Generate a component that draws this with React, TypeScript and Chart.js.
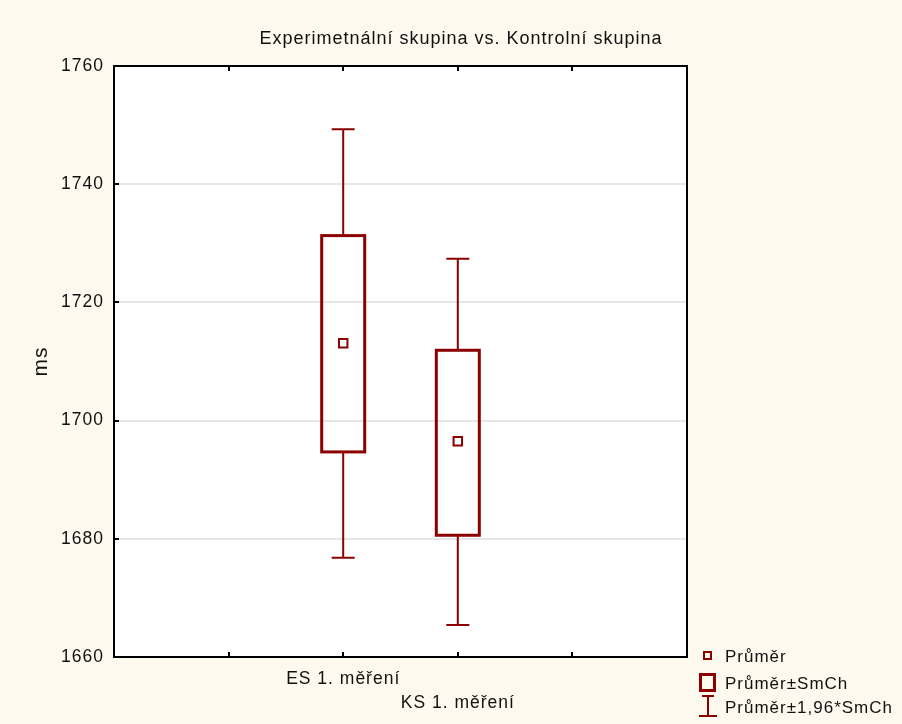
import React, { useEffect, useRef } from "react";
import { Chart, registerables } from "chart.js";

Chart.register(...registerables);

const chartTitle = "Experimetnální skupina vs. Kontrolní skupina";
const yAxisTitle = "ms";
const categories = ["ES 1. měření", "KS 1. měření"];
const categoryPositions = [2, 3];
const xRange = [0, 5];
const means = [1713.1, 1696.5];
const seLow = [1694.7, 1680.6];
const seHigh = [1731.3, 1711.9];
const ciLow = [1676.8, 1665.4];
const ciHigh = [1749.3, 1727.4];
const yRange = [1660, 1760];
const yStep = 20;
const legendLabels = ["Průměr", "Průměr±SmCh", "Průměr±1,96*SmCh"];

const RED = "#8B0000";
const FONT = "'Liberation Sans', Arial, sans-serif";
const BG = "#fdf9ee";

const boxPlugin = {
  id: "boxPlugin",
  beforeDraw(chart: any) {
    const { ctx, chartArea } = chart;
    try {
      (ctx as any).letterSpacing = "1px";
    } catch (e) {}
    ctx.save();
    ctx.fillStyle = "#ffffff";
    ctx.fillRect(chartArea.left, chartArea.top, chartArea.right - chartArea.left, chartArea.bottom - chartArea.top);
    ctx.restore();
  },
  beforeDatasetsDraw(chart: any) {
    const { ctx } = chart;
    const xs = chart.scales.x;
    const ys = chart.scales.y;
    ctx.save();
    ctx.strokeStyle = RED;
    for (let i = 0; i < categories.length; i++) {
      const px = xs.getPixelForValue(categoryPositions[i]);
      const yCiH = ys.getPixelForValue(ciHigh[i]);
      const yCiL = ys.getPixelForValue(ciLow[i]);
      const ySeH = ys.getPixelForValue(seHigh[i]);
      const ySeL = ys.getPixelForValue(seLow[i]);
      // whiskers
      ctx.lineWidth = 2;
      ctx.beginPath();
      ctx.moveTo(px, yCiH);
      ctx.lineTo(px, ySeH);
      ctx.moveTo(px, ySeL);
      ctx.lineTo(px, yCiL);
      ctx.moveTo(px - 11.5, yCiH);
      ctx.lineTo(px + 11.5, yCiH);
      ctx.moveTo(px - 11.5, yCiL);
      ctx.lineTo(px + 11.5, yCiL);
      ctx.stroke();
      // box
      ctx.lineWidth = 3;
      ctx.strokeRect(px - 21.5, ySeH, 43, ySeL - ySeH);
    }
    ctx.restore();
  },
  afterDraw(chart: any) {
    const { ctx, chartArea } = chart;
    const xs = chart.scales.x;
    const ys = chart.scales.y;
    const { left, right, top, bottom } = chartArea;
    ctx.save();
    // frame
    ctx.strokeStyle = "#000000";
    ctx.lineWidth = 2;
    ctx.strokeRect(left, top, right - left, bottom - top);
    ctx.beginPath();
    for (let v = xRange[0] + 1; v < xRange[1]; v++) {
      const px = Math.round(xs.getPixelForValue(v));
      ctx.moveTo(px, bottom);
      ctx.lineTo(px, bottom - 5);
      ctx.moveTo(px, top);
      ctx.lineTo(px, top + 5);
    }
    for (let v = yRange[0] + yStep; v < yRange[1]; v += yStep) {
      const py = Math.round(ys.getPixelForValue(v));
      ctx.moveTo(left, py);
      ctx.lineTo(left + 5, py);
    }
    ctx.stroke();

    // legend
    ctx.strokeStyle = RED;
    ctx.lineWidth = 2;
    ctx.strokeRect(704, 652, 7, 7);
    ctx.lineWidth = 3;
    ctx.strokeRect(700.5, 674.5, 14, 16);
    ctx.lineWidth = 2;
    ctx.beginPath();
    ctx.moveTo(708, 696);
    ctx.lineTo(708, 716);
    ctx.moveTo(702, 696);
    ctx.lineTo(714, 696);
    ctx.moveTo(699, 716);
    ctx.lineTo(717, 716);
    ctx.stroke();

    ctx.fillStyle = "#111111";
    ctx.font = `17px ${FONT}`;
    ctx.textAlign = "left";
    ctx.textBaseline = "alphabetic";
    const baselines = [662, 689, 713];
    legendLabels.forEach((t, i) => ctx.fillText(t, 725, baselines[i]));
    ctx.restore();
  },
};

export default function App() {
  const ref = useRef<HTMLCanvasElement | null>(null);

  useEffect(() => {
    if (!ref.current) return;
    const chart = new Chart(ref.current, {
      type: "scatter",
      data: {
        datasets: [
          {
            label: legendLabels[0],
            data: categoryPositions.map((x, i) => ({ x, y: means[i] })),
            pointStyle: "rect",
            pointRadius: 6,
            pointHoverRadius: 6,
            pointBorderWidth: 2,
            borderColor: RED,
            backgroundColor: "#ffffff",
          },
        ],
      },
      plugins: [boxPlugin],
      options: {
        animation: false,
        responsive: false,
        devicePixelRatio: 1,
        events: [],
        layout: { padding: { left: 20, right: 0, top: 0, bottom: 0 } },
        plugins: {
          legend: { display: false },
          tooltip: { enabled: false },
          title: {
            display: true,
            text: chartTitle,
            color: "#111111",
            font: { family: FONT, size: 18, weight: "normal", lineHeight: 1.2 },
            padding: { top: 28, bottom: 16.4 },
          },
        },
        scales: {
          x: {
            type: "linear",
            min: xRange[0],
            max: xRange[1],
            grid: { display: false, drawTicks: false },
            border: { display: false },
            afterFit: (s: any) => {
              s.height = 67;
            },
            ticks: {
              stepSize: 1,
              autoSkip: false,
              maxRotation: 0,
              padding: 10,
              color: "#111111",
              font: { family: FONT, size: 17.5, lineHeight: 1.37 },
              callback: (v: any) => {
                const idx = categoryPositions.indexOf(Number(v));
                if (idx < 0) return "";
                return idx % 2 === 0 ? categories[idx] : ["", categories[idx]];
              },
            },
          },
          y: {
            type: "linear",
            min: yRange[0],
            max: yRange[1],
            afterFit: (s: any) => {
              s.width = 94;
            },
            grid: { color: "#e6e6e6", lineWidth: 2, drawTicks: false },
            border: { display: false },
            ticks: {
              stepSize: yStep,
              padding: 10,
              color: "#111111",
              font: { family: FONT, size: 17.5 },
              callback: (v: any) => String(v),
            },
            title: {
              display: true,
              text: yAxisTitle,
              color: "#111111",
              font: { family: FONT, size: 21, lineHeight: 1.2 },
              padding: { top: 8.4, bottom: 0 },
            },
          },
          yLegendSpace: {
            type: "linear",
            position: "right",
            min: yRange[0],
            max: yRange[1],
            grid: { display: false, drawTicks: false },
            border: { display: false },
            ticks: { display: false },
            afterFit: (s: any) => {
              s.width = 215;
            },
          },
        },
      },
    });
    return () => chart.destroy();
  }, []);

  return (
    <div style={{ position: "fixed", left: 0, top: 0, width: 902, height: 724, background: BG }}>
      <canvas ref={ref} width={902} height={724} style={{ width: 902, height: 724, display: "block" }} />
    </div>
  );
}
